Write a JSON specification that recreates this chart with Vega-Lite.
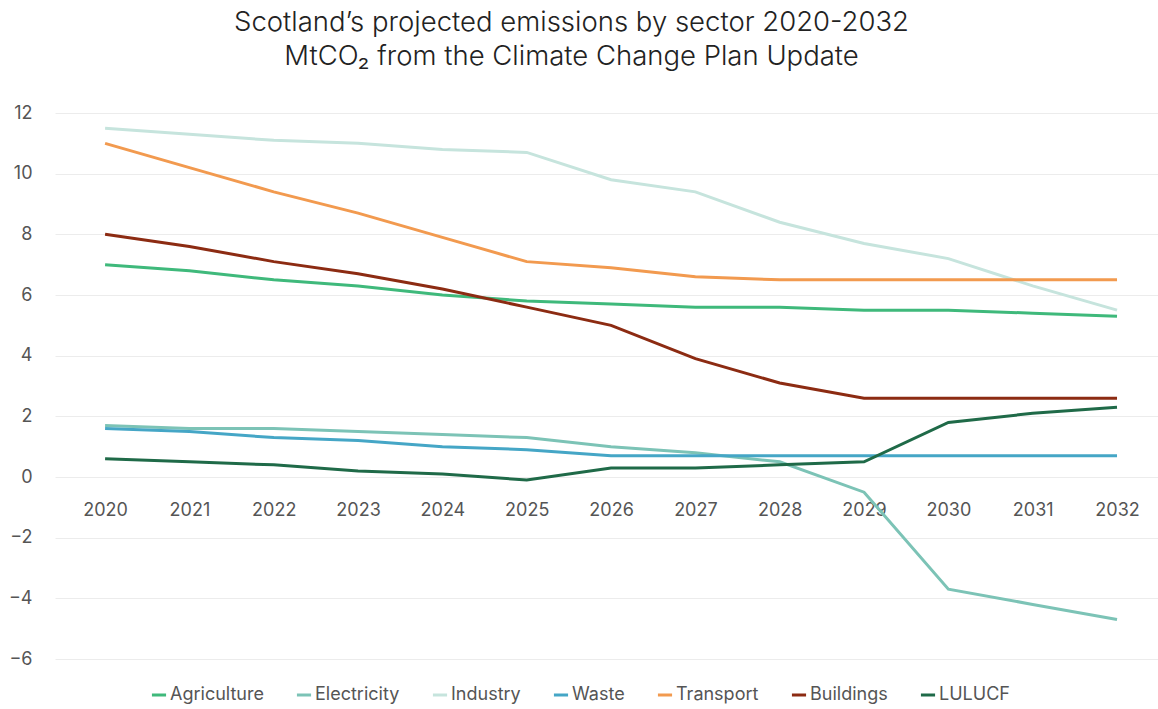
{
  "$schema": "https://vega.github.io/schema/vega-lite/v6.json",
  "autosize": {"type": "none"},
  "padding": {"left": 55, "top": 113, "right": 0, "bottom": 50},
  "width": 1103,
  "height": 546,
  "background": "white",
  "config": {
    "view": {"stroke": null},
    "font": "Inter",
    "axis": {"labelFont": "Inter", "labelColor": "#555555", "labelFontSize": 18}
  },
  "title": {
    "text": ["Scotland’s projected emissions by sector 2020-2032", "MtCO₂ from the Climate Change Plan Update"],
    "fontSize": 27.5,
    "fontWeight": 300,
    "color": "#222222",
    "lineHeight": 34,
    "anchor": "middle",
    "dx": -35,
    "offset": 34
  },
  "data": {
    "values": [
      {"year": "2020", "sector": "Agriculture", "value": 7.0},
      {"year": "2021", "sector": "Agriculture", "value": 6.8},
      {"year": "2022", "sector": "Agriculture", "value": 6.5},
      {"year": "2023", "sector": "Agriculture", "value": 6.3},
      {"year": "2024", "sector": "Agriculture", "value": 6.0},
      {"year": "2025", "sector": "Agriculture", "value": 5.8},
      {"year": "2026", "sector": "Agriculture", "value": 5.7},
      {"year": "2027", "sector": "Agriculture", "value": 5.6},
      {"year": "2028", "sector": "Agriculture", "value": 5.6},
      {"year": "2029", "sector": "Agriculture", "value": 5.5},
      {"year": "2030", "sector": "Agriculture", "value": 5.5},
      {"year": "2031", "sector": "Agriculture", "value": 5.4},
      {"year": "2032", "sector": "Agriculture", "value": 5.3},
      {"year": "2020", "sector": "Electricity", "value": 1.7},
      {"year": "2021", "sector": "Electricity", "value": 1.6},
      {"year": "2022", "sector": "Electricity", "value": 1.6},
      {"year": "2023", "sector": "Electricity", "value": 1.5},
      {"year": "2024", "sector": "Electricity", "value": 1.4},
      {"year": "2025", "sector": "Electricity", "value": 1.3},
      {"year": "2026", "sector": "Electricity", "value": 1.0},
      {"year": "2027", "sector": "Electricity", "value": 0.8},
      {"year": "2028", "sector": "Electricity", "value": 0.5},
      {"year": "2029", "sector": "Electricity", "value": -0.5},
      {"year": "2030", "sector": "Electricity", "value": -3.7},
      {"year": "2031", "sector": "Electricity", "value": -4.2},
      {"year": "2032", "sector": "Electricity", "value": -4.7},
      {"year": "2020", "sector": "Industry", "value": 11.5},
      {"year": "2021", "sector": "Industry", "value": 11.3},
      {"year": "2022", "sector": "Industry", "value": 11.1},
      {"year": "2023", "sector": "Industry", "value": 11.0},
      {"year": "2024", "sector": "Industry", "value": 10.8},
      {"year": "2025", "sector": "Industry", "value": 10.7},
      {"year": "2026", "sector": "Industry", "value": 9.8},
      {"year": "2027", "sector": "Industry", "value": 9.4},
      {"year": "2028", "sector": "Industry", "value": 8.4},
      {"year": "2029", "sector": "Industry", "value": 7.7},
      {"year": "2030", "sector": "Industry", "value": 7.2},
      {"year": "2031", "sector": "Industry", "value": 6.3},
      {"year": "2032", "sector": "Industry", "value": 5.5},
      {"year": "2020", "sector": "Waste", "value": 1.6},
      {"year": "2021", "sector": "Waste", "value": 1.5},
      {"year": "2022", "sector": "Waste", "value": 1.3},
      {"year": "2023", "sector": "Waste", "value": 1.2},
      {"year": "2024", "sector": "Waste", "value": 1.0},
      {"year": "2025", "sector": "Waste", "value": 0.9},
      {"year": "2026", "sector": "Waste", "value": 0.7},
      {"year": "2027", "sector": "Waste", "value": 0.7},
      {"year": "2028", "sector": "Waste", "value": 0.7},
      {"year": "2029", "sector": "Waste", "value": 0.7},
      {"year": "2030", "sector": "Waste", "value": 0.7},
      {"year": "2031", "sector": "Waste", "value": 0.7},
      {"year": "2032", "sector": "Waste", "value": 0.7},
      {"year": "2020", "sector": "Transport", "value": 11.0},
      {"year": "2021", "sector": "Transport", "value": 10.2},
      {"year": "2022", "sector": "Transport", "value": 9.4},
      {"year": "2023", "sector": "Transport", "value": 8.7},
      {"year": "2024", "sector": "Transport", "value": 7.9},
      {"year": "2025", "sector": "Transport", "value": 7.1},
      {"year": "2026", "sector": "Transport", "value": 6.9},
      {"year": "2027", "sector": "Transport", "value": 6.6},
      {"year": "2028", "sector": "Transport", "value": 6.5},
      {"year": "2029", "sector": "Transport", "value": 6.5},
      {"year": "2030", "sector": "Transport", "value": 6.5},
      {"year": "2031", "sector": "Transport", "value": 6.5},
      {"year": "2032", "sector": "Transport", "value": 6.5},
      {"year": "2020", "sector": "Buildings", "value": 8.0},
      {"year": "2021", "sector": "Buildings", "value": 7.6},
      {"year": "2022", "sector": "Buildings", "value": 7.1},
      {"year": "2023", "sector": "Buildings", "value": 6.7},
      {"year": "2024", "sector": "Buildings", "value": 6.2},
      {"year": "2025", "sector": "Buildings", "value": 5.6},
      {"year": "2026", "sector": "Buildings", "value": 5.0},
      {"year": "2027", "sector": "Buildings", "value": 3.9},
      {"year": "2028", "sector": "Buildings", "value": 3.1},
      {"year": "2029", "sector": "Buildings", "value": 2.6},
      {"year": "2030", "sector": "Buildings", "value": 2.6},
      {"year": "2031", "sector": "Buildings", "value": 2.6},
      {"year": "2032", "sector": "Buildings", "value": 2.6},
      {"year": "2020", "sector": "LULUCF", "value": 0.6},
      {"year": "2021", "sector": "LULUCF", "value": 0.5},
      {"year": "2022", "sector": "LULUCF", "value": 0.4},
      {"year": "2023", "sector": "LULUCF", "value": 0.2},
      {"year": "2024", "sector": "LULUCF", "value": 0.1},
      {"year": "2025", "sector": "LULUCF", "value": -0.1},
      {"year": "2026", "sector": "LULUCF", "value": 0.3},
      {"year": "2027", "sector": "LULUCF", "value": 0.3},
      {"year": "2028", "sector": "LULUCF", "value": 0.4},
      {"year": "2029", "sector": "LULUCF", "value": 0.5},
      {"year": "2030", "sector": "LULUCF", "value": 1.8},
      {"year": "2031", "sector": "LULUCF", "value": 2.1},
      {"year": "2032", "sector": "LULUCF", "value": 2.3}
    ]
  },
  "mark": {"type": "line", "strokeWidth": 3},
  "encoding": {
    "x": {
      "field": "year",
      "type": "ordinal",
      "scale": {"type": "point", "padding": 0.54, "align": 0.55},
      "axis": {
        "title": null,
        "labelAngle": 0,
        "domain": false,
        "ticks": false,
        "tickSize": 0,
        "grid": false,
        "orient": "bottom",
        "offset": -182,
        "labelPadding": 24
      }
    },
    "y": {
      "field": "value",
      "type": "quantitative",
      "scale": {"domain": [-6, 12], "nice": false},
      "axis": {
        "title": null,
        "values": [-6, -4, -2, 0, 2, 4, 6, 8, 10, 12],
        "domain": false,
        "ticks": false,
        "tickSize": 0,
        "labelPadding": 23,
        "gridColor": "#ececec",
        "gridWidth": 1
      }
    },
    "color": {
      "field": "sector",
      "type": "nominal",
      "scale": {
        "domain": ["Agriculture", "Electricity", "Industry", "Waste", "Transport", "Buildings", "LULUCF"],
        "range": ["#3fb97b", "#7cc3b6", "#c6e4dd", "#45a6c6", "#f29a4f", "#8c2b12", "#1f6a48"]
      },
      "legend": {
        "title": null,
        "orient": "none",
        "legendX": 95,
        "legendY": 573,
        "direction": "horizontal",
        "symbolType": "stroke",
        "symbolStrokeWidth": 3,
        "symbolSize": 200,
        "labelFont": "Inter",
        "labelFontSize": 18,
        "labelColor": "#555555",
        "labelOffset": 2,
        "columnPadding": 26
      }
    }
  }
}
